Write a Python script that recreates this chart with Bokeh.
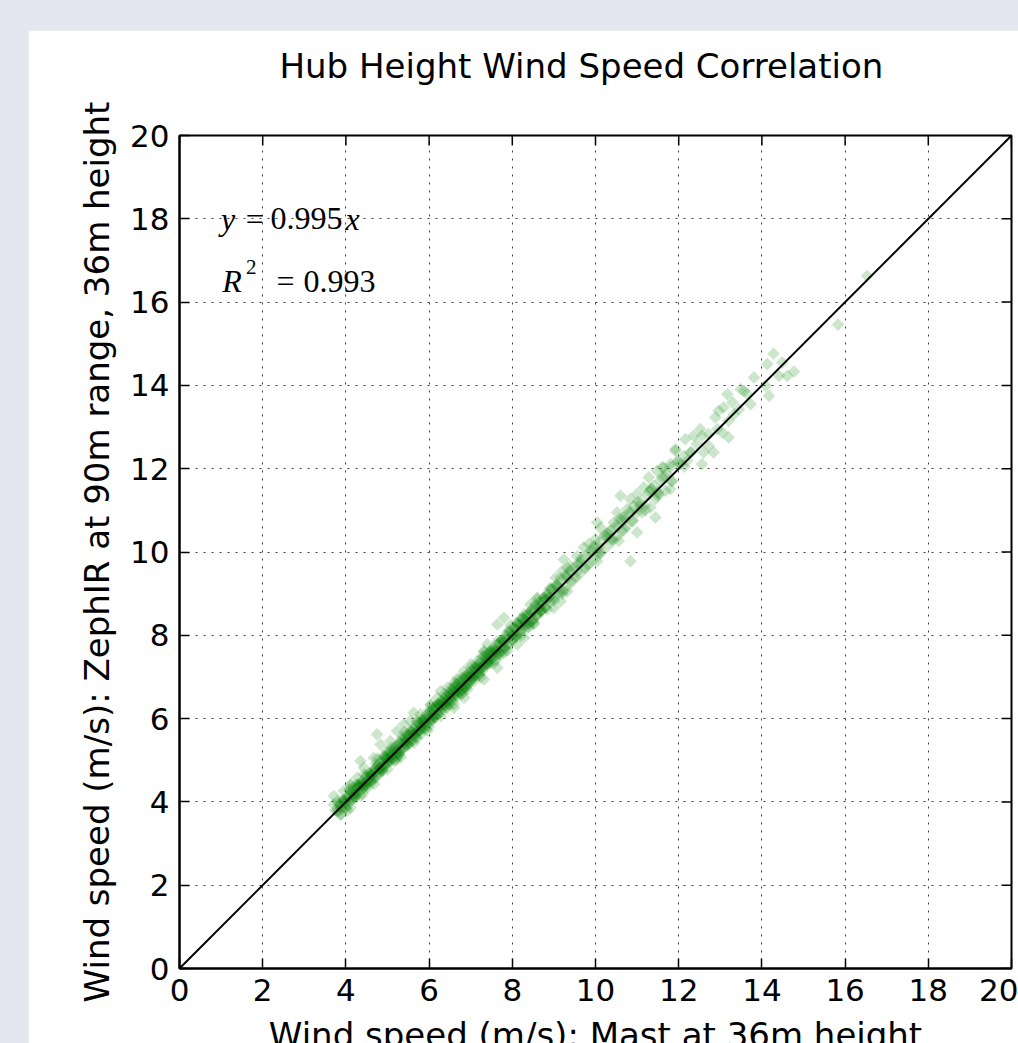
import numpy as np
from bokeh.plotting import figure
from bokeh.models import Range1d, FixedTicker
from bokeh.models import Label
from bokeh.layouts import column
from bokeh.embed import file_html
from bokeh.resources import INLINE

# ---------------- data ----------------
# x = mast wind speed, y = ZephIR wind speed (m/s)
low_x = [6.92, 6.76, 6.60, 6.44, 6.20, 6.04, 5.79, 5.63, 5.55, 5.87,
         5.39, 5.23, 5.47, 5.71, 4.75, 4.83, 5.07, 4.99, 5.31, 5.23,
         4.67, 4.35, 4.43, 4.83, 4.99, 4.59, 4.27, 4.43, 4.11, 4.19,
         3.95, 4.03, 3.71, 3.87, 4.11, 3.71, 3.87, 3.79]
low_y = [6.82, 6.58, 6.74, 6.50, 6.34, 6.18, 6.10, 6.14, 5.94, 5.86,
         5.86, 5.70, 5.62, 5.54, 5.62, 5.38, 5.46, 5.22, 5.22, 5.06,
         5.06, 4.98, 4.82, 4.82, 4.94, 4.66, 4.58, 4.46, 4.42, 4.26,
         4.26, 4.10, 4.14, 3.94, 3.86, 3.94, 3.70, 3.78]

mid_x = [9.32, 9.16, 9.32, 9.00, 8.84, 9.16, 8.60, 8.44, 8.68, 9.00,
         8.36, 8.20, 8.52, 7.80, 7.64, 8.04, 7.88, 8.28, 8.12, 7.72,
         7.40, 7.60, 7.32, 7.80, 7.48, 7.16, 7.28, 7.00, 7.64, 6.84,
         7.08, 6.76, 7.32, 6.60, 6.92, 6.44, 6.68, 6.28, 6.52, 6.84,
         6.20, 6.36, 6.04, 6.60]
mid_y = [9.62, 9.38, 9.06, 9.14, 8.98, 8.82, 8.90, 8.74, 8.58, 8.66,
         8.50, 8.38, 8.30, 8.42, 8.26, 8.18, 8.06, 7.94, 7.78, 7.86,
         7.78, 7.66, 7.62, 7.58, 7.46, 7.38, 7.22, 7.30, 7.22, 7.14,
         7.02, 6.98, 6.94, 6.86, 6.78, 6.74, 6.66, 6.66, 6.54, 6.50,
         6.50, 6.38, 6.34, 6.26]

upper_x = [11.92, 11.80, 11.96, 11.64, 11.48, 11.72, 11.28, 11.56, 11.40, 11.68,
           11.80, 11.16, 11.00, 11.24, 11.44, 10.60, 10.84, 11.08, 11.32, 10.76,
           11.00, 11.44, 10.52, 10.68, 10.88, 11.00, 10.44, 10.36, 10.64, 10.12,
           10.04, 10.28, 10.56, 10.84, 10.00, 9.84, 10.08, 9.72, 9.88, 9.56,
           9.24, 9.64, 10.04, 9.40, 9.20, 9.56, 9.04, 9.32,
           9.08, 9.22, 9.38, 9.52, 9.66, 9.82, 9.96, 10.12, 10.28, 10.42,
           10.58, 10.74, 10.92, 11.12, 11.34, 11.52,
           9.58, 9.74, 9.90, 10.06, 10.22, 10.38, 10.54, 10.70, 10.86, 11.02,
           11.18, 11.34, 11.50, 11.66, 11.82, 11.98, 12.14, 12.30]
upper_y = [12.43, 12.11, 12.15, 12.03, 11.95, 11.87, 11.79, 11.71, 11.59, 11.47,
           11.51, 11.55, 11.39, 11.35, 11.27, 11.35, 11.27, 11.19, 11.07, 11.03,
           10.95, 10.83, 10.95, 10.83, 10.75, 10.47, 10.71, 10.51, 10.51, 10.58,
           10.71, 10.35, 10.27, 9.78, 10.31, 10.19, 10.11, 10.11, 9.94, 9.90,
           9.82, 9.74, 9.78, 9.66, 9.54, 9.54, 9.38, 9.38,
           9.20, 9.05, 9.55, 9.40, 9.85, 9.70, 10.15, 9.98, 10.45, 10.30,
           10.80, 10.62, 11.10, 10.95, 11.50, 11.40,
           9.70, 9.62, 10.02, 9.98, 10.40, 10.30, 10.62, 10.78, 10.95, 11.20,
           11.10, 11.52, 11.44, 11.82, 11.70, 12.18, 12.05, 12.40]

high_x = [14.28, 14.13, 14.49, 14.77, 14.61, 14.41, 13.81, 14.09, 14.17, 13.73,
          13.57, 13.65, 13.49, 13.17, 13.29, 13.08, 13.45, 13.33, 12.96, 13.20,
          12.88, 12.93, 13.05, 13.20, 12.72, 12.52, 12.56, 12.36, 12.16, 12.44,
          12.72, 12.84, 12.60, 12.28, 12.12, 11.92, 12.20, 12.56, 12.04, 11.80,
          11.60, 15.83, 16.53]
high_y = [14.76, 14.51, 14.55, 14.33, 14.23, 14.23, 14.19, 13.99, 13.75, 13.55,
          13.87, 13.79, 13.91, 13.79, 13.59, 13.47, 13.43, 13.31, 13.39, 13.15,
          13.23, 12.95, 12.87, 12.75, 12.83, 12.95, 12.79, 12.79, 12.71, 12.59,
          12.55, 12.39, 12.39, 12.39, 12.31, 12.47, 12.19, 12.11, 12.11, 12.03,
          12.03, 15.46, 16.63]

band_x = [3.75, 3.82, 3.90, 3.95, 4.00, 4.05, 4.10, 4.12, 4.18, 4.20,
          4.25, 4.28, 4.30, 4.35, 4.38, 4.40, 4.45, 4.48, 4.50, 4.55,
          4.58, 4.60, 4.65, 4.70, 4.72, 4.75, 4.80, 4.82, 4.85, 4.90,
          4.92, 4.95, 5.00, 5.02, 5.05, 5.10, 5.12, 5.15, 5.20, 5.22,
          5.25, 5.30, 5.32, 5.35, 5.40, 5.42, 5.45, 5.50, 5.52, 5.55,
          5.60, 5.62, 5.65, 5.70, 5.72, 5.75, 5.80, 5.82, 5.85, 5.90,
          5.92, 5.95, 6.00, 6.02, 6.05, 6.10, 6.12, 6.15, 6.20, 6.22,
          6.25, 6.30, 6.32, 6.35, 6.40, 6.42, 6.45, 6.50, 6.52, 6.55,
          6.60, 6.62, 6.65, 6.70, 6.72, 6.75, 6.80, 6.82, 6.85, 6.90,
          6.92, 6.95, 7.00, 7.02, 7.05, 7.10, 7.12, 7.15, 7.20, 7.22,
          7.25, 7.30, 7.32, 7.35, 7.40, 7.42, 7.45, 7.50, 7.52, 7.55,
          7.60, 7.65, 7.70, 7.75, 7.80, 7.85, 7.90, 7.95, 8.00, 8.05,
          8.10, 8.15, 8.20, 8.25, 8.30, 8.35, 8.40, 8.45, 8.50, 8.55,
          8.60, 8.65, 8.70, 8.75, 8.80, 8.85, 8.90, 8.95, 9.00, 9.05,
          9.10, 9.15, 9.20, 9.30, 9.35, 9.45, 9.50, 9.60, 9.65, 9.75,
          9.80, 9.90, 9.95, 10.05, 10.10, 10.20, 10.25, 10.35, 10.40, 10.50,
          10.55, 10.65, 10.70, 10.80, 10.90, 11.05, 11.20, 11.30, 11.50, 11.60,
          11.85]
band_y = [3.80, 3.95, 3.85, 4.05, 3.92, 4.12, 4.00, 4.25, 4.10, 4.30,
          4.18, 4.35, 4.22, 4.45, 4.30, 4.50, 4.38, 4.60, 4.42, 4.55,
          4.48, 4.70, 4.58, 4.78, 4.62, 4.85, 4.72, 4.95, 4.80, 5.00,
          4.85, 5.10, 4.92, 5.15, 5.00, 5.20, 5.05, 5.30, 5.12, 5.35,
          5.20, 5.40, 5.25, 5.50, 5.32, 5.55, 5.40, 5.60, 5.45, 5.70,
          5.52, 5.75, 5.60, 5.80, 5.65, 5.88, 5.72, 5.95, 5.80, 6.00,
          5.85, 6.10, 5.92, 6.15, 6.00, 6.22, 6.05, 6.30, 6.12, 6.35,
          6.20, 6.40, 6.25, 6.50, 6.32, 6.55, 6.40, 6.60, 6.45, 6.70,
          6.52, 6.75, 6.60, 6.82, 6.65, 6.90, 6.72, 6.95, 6.80, 7.00,
          6.85, 7.10, 6.92, 7.15, 7.00, 7.22, 7.05, 7.30, 7.12, 7.35,
          7.20, 7.40, 7.25, 7.50, 7.32, 7.55, 7.40, 7.62, 7.45, 7.70,
          7.52, 7.78, 7.60, 7.88, 7.70, 7.98, 7.80, 8.10, 7.90, 8.18,
          8.00, 8.28, 8.10, 8.40, 8.20, 8.48, 8.28, 8.60, 8.38, 8.70,
          8.50, 8.78, 8.60, 8.90, 8.68, 8.98, 8.80, 9.10, 8.88, 9.20,
          9.00, 9.30, 9.08, 9.45, 9.20, 9.60, 9.35, 9.75, 9.50, 9.90,
          9.65, 10.05, 9.80, 10.20, 9.95, 10.35, 10.10, 10.50, 10.25, 10.65,
          10.40, 10.80, 10.55, 10.95, 10.75, 11.10, 11.00, 11.45, 11.35, 11.80,
          11.70]

core_x = [3.85, 3.98, 4.08, 4.15, 4.22, 4.32, 4.42, 4.52, 4.62, 4.68,
          4.78, 4.88, 4.98, 5.08, 5.18, 5.28, 5.38, 5.48, 5.58, 5.68,
          5.78, 5.88, 5.98, 6.08, 6.18, 6.28, 6.38, 6.48, 6.58, 6.68,
          6.78, 6.88, 6.98, 7.08, 7.18, 7.28, 7.38, 7.48, 7.58, 7.68,
          7.78, 7.88, 7.98, 8.08, 8.18, 8.28, 8.38, 8.48, 8.58, 8.68,
          8.78, 8.88,
          4.30, 4.50, 4.70, 4.90, 5.10, 5.30, 5.50, 5.70, 5.90, 6.10,
          6.30, 6.50, 6.70, 6.90, 7.10, 7.30, 7.50, 7.70, 4.40, 4.60,
          4.80, 5.00, 5.20, 5.40, 5.60, 5.80, 6.00, 6.20, 6.40, 6.60,
          6.80, 7.00, 7.20, 7.40, 7.60]
core_y = [3.90, 4.00, 4.15, 4.05, 4.20, 4.40, 4.35, 4.50, 4.65, 4.55,
          4.90, 4.75, 5.05, 4.98, 5.25, 5.15, 5.45, 5.35, 5.65, 5.55,
          5.85, 5.75, 6.05, 5.98, 6.25, 6.15, 6.45, 6.35, 6.65, 6.55,
          6.85, 6.75, 7.05, 6.98, 7.25, 7.15, 7.45, 7.35, 7.65, 7.55,
          7.85, 7.75, 8.00, 8.15, 8.05, 8.35, 8.30, 8.55, 8.45, 8.70,
          8.85, 8.90,
          4.30, 4.48, 4.70, 4.88, 5.10, 5.28, 5.50, 5.68, 5.90, 6.08,
          6.30, 6.48, 6.70, 6.88, 7.10, 7.28, 7.50, 7.72, 4.42, 4.60,
          4.80, 5.02, 5.20, 5.42, 5.60, 5.82, 6.00, 6.22, 6.40, 6.62,
          6.80, 7.02, 7.20, 7.42, 7.60]

spread_x = [3.80, 3.88, 3.96, 4.04, 4.12, 4.20, 4.28, 4.36,
            4.44, 4.52, 4.60, 4.68, 4.76, 4.84, 4.92, 5.00,
            5.08, 5.16, 5.24, 5.32, 5.40, 5.48, 5.56, 5.64,
            5.72, 5.80, 5.88, 5.96, 6.04, 6.12, 6.20, 6.28,
            6.36, 6.44, 6.52, 6.60, 6.68, 6.76, 6.84, 6.92,
            7.00, 7.08, 7.16, 7.24, 7.32, 7.40, 7.48, 7.56,
            7.64, 7.72, 7.80, 7.88, 7.96, 8.04, 8.12, 8.20,
            8.28, 8.36, 8.44, 8.52, 8.60, 8.68, 8.76, 8.84,
            8.92, 9.00]
spread_y = [4.02, 3.70, 4.01, 3.79, 4.40, 4.10, 4.43, 4.14,
            4.66, 4.34, 4.65, 4.43, 5.04, 4.74, 5.07, 4.78,
            5.30, 4.98, 5.29, 5.07, 5.68, 5.38, 5.71, 5.42,
            5.94, 5.62, 5.93, 5.71, 6.32, 6.02, 6.35, 6.06,
            6.58, 6.26, 6.57, 6.35, 6.96, 6.66, 6.99, 6.70,
            7.22, 6.90, 7.21, 6.99, 7.60, 7.30, 7.63, 7.34,
            7.86, 7.54, 7.85, 7.63, 8.24, 7.94, 8.27, 7.98,
            8.50, 8.18, 8.49, 8.27, 8.88, 8.58, 8.91, 8.62,
            9.14, 8.82]

dense_x = [3.84, 3.92, 4.00, 4.08, 4.16, 4.24, 4.32, 4.40,
           4.48, 4.56, 4.64, 4.72, 4.80, 4.88, 4.96, 5.04,
           5.12, 5.20, 5.28, 5.36, 5.44, 5.52, 5.60, 5.68,
           5.76, 5.84, 5.92, 6.00, 6.08, 6.16, 6.24, 6.32,
           6.40, 6.48, 6.56, 6.64, 6.72, 6.80, 6.88, 6.96,
           7.04, 7.12, 7.20, 7.28, 7.36, 7.44, 7.52, 7.60,
           7.68, 7.76, 7.84, 7.92, 8.00, 8.08, 8.16, 8.24,
           8.32, 8.40, 8.48, 8.56, 8.64, 8.72, 8.80, 8.88,
           3.90, 4.00, 4.10, 4.20, 4.30, 4.40, 4.50, 4.60,
           4.70, 4.80, 4.90, 5.00, 5.10, 5.20, 5.30, 5.40,
           5.50, 5.60, 5.70, 5.80, 5.90, 6.00, 6.10, 6.20,
           6.30, 6.40, 6.50, 6.60, 6.70, 6.80, 6.90, 7.00,
           7.10, 7.20, 7.30, 7.40, 7.50, 7.60, 7.70, 7.80,
           7.90, 8.00, 8.10, 8.20, 8.30, 8.40, 8.50, 8.60,
           8.70, 8.80, 8.90, 9.00, 9.10, 9.20, 9.30, 9.40,
           4.05, 4.25, 4.45, 4.65, 4.85, 5.05, 5.25, 5.45,
           5.65, 5.85, 6.05, 6.25, 6.45, 6.65, 6.85, 7.05,
           7.25, 7.45, 7.65, 7.85, 8.05, 8.25, 8.45, 8.65]
dense_y = [3.79, 4.04, 3.85, 4.28, 4.16, 4.12, 4.40, 4.42,
           4.43, 4.68, 4.49, 4.92, 4.80, 4.76, 5.04, 5.06,
           5.07, 5.32, 5.13, 5.56, 5.44, 5.40, 5.68, 5.70,
           5.71, 5.96, 5.77, 6.20, 6.08, 6.04, 6.32, 6.34,
           6.35, 6.60, 6.41, 6.84, 6.72, 6.68, 6.96, 6.98,
           6.99, 7.24, 7.05, 7.48, 7.36, 7.32, 7.60, 7.62,
           7.63, 7.88, 7.69, 8.12, 8.00, 7.96, 8.24, 8.26,
           8.27, 8.52, 8.33, 8.76, 8.64, 8.60, 8.88, 8.90,
           4.00, 3.86, 4.30, 4.16, 4.36, 4.20, 4.64, 4.50,
           4.80, 4.66, 5.10, 4.96, 5.16, 5.00, 5.44, 5.30,
           5.60, 5.46, 5.90, 5.76, 5.96, 5.80, 6.24, 6.10,
           6.40, 6.26, 6.70, 6.56, 6.76, 6.60, 7.04, 6.90,
           7.20, 7.06, 7.50, 7.36, 7.56, 7.40, 7.84, 7.70,
           8.00, 7.86, 8.30, 8.16, 8.36, 8.20, 8.64, 8.50,
           8.80, 8.66, 9.10, 8.96, 9.16, 9.00, 9.44, 9.30,
           4.03, 4.41, 4.33, 4.69, 4.83, 5.21, 5.13, 5.49,
           5.63, 6.01, 5.93, 6.29, 6.43, 6.81, 6.73, 7.09,
           7.23, 7.61, 7.53, 7.89, 8.03, 8.41, 8.33, 8.69]

# one-to-one reference line
line_x = [0, 20]
line_y = [0, 20]

tick_values = [0, 2, 4, 6, 8, 10, 12, 14, 16, 18, 20]

title_text = "Hub Height Wind Speed Correlation"
x_label = "Wind speed (m/s): Mast at 36m height"
y_label = "Wind speed (m/s): ZephIR at 90m range, 36m height"

mast_speed = low_x + mid_x + upper_x + high_x + band_x + core_x + spread_x + dense_x
zephir_speed = low_y + mid_y + upper_y + high_y + band_y + core_y + spread_y + dense_y
assert len(mast_speed) == len(zephir_speed), (len(mast_speed), len(zephir_speed))

# ---------------- figure ----------------
X0, X1 = 0, 20
p = figure(frame_width=832, frame_height=832,
           x_range=Range1d(X0, X1), y_range=Range1d(X0, X1),
           output_backend="svg", toolbar_location=None,
           min_border_left=151, min_border_right=7,
           min_border_top=105, min_border_bottom=20,
           title=title_text + "\n",
           background_fill_color="white", border_fill_color="white")

p.title.text_font = "DejaVu Sans"
p.title.text_font_size = "34px"
p.title.text_font_style = "normal"
p.title.text_color = "black"
p.title.align = "left"
p.title.offset = 100
p.title.vertical_align = "bottom"
p.title.standoff = 20

p.outline_line_color = "black"
p.outline_line_width = 2
p.outline_line_alpha = 1

for ax in (p.xaxis[0], p.yaxis[0]):
    ax.ticker = FixedTicker(ticks=tick_values)
    ax.major_tick_in = 10
    ax.major_tick_out = 0
    ax.minor_tick_in = 0
    ax.minor_tick_out = 0
    ax.major_tick_line_color = "black"
    ax.major_tick_line_width = 1.5
    ax.axis_line_color = "black"
    ax.axis_line_width = 2
    ax.major_label_text_font = "DejaVu Sans"
    ax.major_label_text_font_size = "31px"
    ax.major_label_text_color = "black"
    ax.axis_label_text_font = "DejaVu Sans"
    ax.axis_label_text_font_size = "34px"
    ax.axis_label_text_font_style = "normal"
    ax.axis_label_text_color = "black"

p.xaxis[0].axis_label = x_label
p.yaxis[0].axis_label = y_label
p.xaxis[0].major_label_standoff = 10
p.xaxis[0].axis_label_standoff = 11
p.yaxis[0].major_label_standoff = 10
p.yaxis[0].axis_label_standoff = 10

for g in (p.xgrid[0], p.ygrid[0]):
    g.ticker = FixedTicker(ticks=tick_values)
    g.grid_line_color = "black"
    g.grid_line_alpha = 0.75
    g.grid_line_width = 1
    g.grid_line_dash = "2 6"

p.scatter(mast_speed, zephir_speed, marker="square", size=9, angle=np.pi / 4,
          fill_color="green", fill_alpha=0.2, line_color=None)

p.line(line_x, line_y, line_color="black", line_width=2)

# inward ticks on top and right edges (matplotlib box style)
tick_len = 10 / 41.6
n = len(tick_values)
p.segment(x0=tick_values, y0=[X1] * n, x1=tick_values, y1=[X1 - tick_len] * n,
          line_color="black", line_width=1.5)
p.segment(x0=[X1] * n, y0=tick_values, x1=[X1 - tick_len] * n, y1=tick_values,
          line_color="black", line_width=1.5)

# regression annotation (mathtext-like)
serif = "Liberation Serif"
pieces = [
    ("y", 1.0, 18.0, "italic", "32px"),
    ("=", 1.59, 18.0, "normal", "32px"),
    ("0.995", 2.19, 18.0, "normal", "32px"),
    ("x", 3.99, 18.0, "italic", "32px"),
    ("R", 1.03, 16.5, "italic", "32px"),
    ("2", 1.60, 16.85, "normal", "21px"),
    ("=", 2.33, 16.5, "normal", "32px"),
    ("0.993", 2.98, 16.5, "normal", "32px"),
]
for txt, lx, ly, style, size in pieces:
    p.add_layout(Label(x=lx, y=ly, text=txt, text_font=serif, text_font_style=style,
                       text_font_size=size, text_color="black",
                       text_align="left", text_baseline="alphabetic"))

# the original figure runs past the window's bottom edge: let it overflow and clip
p.margin = (30, 0, -14, 28)
p.styles = {"flex-shrink": "0"}
page = column(p, styles={"background-color": "#e4e7ef", "overflow": "hidden",
                         "width": "1018px", "height": "1043px"})

open("out.html", "w").write(file_html(page, INLINE))
